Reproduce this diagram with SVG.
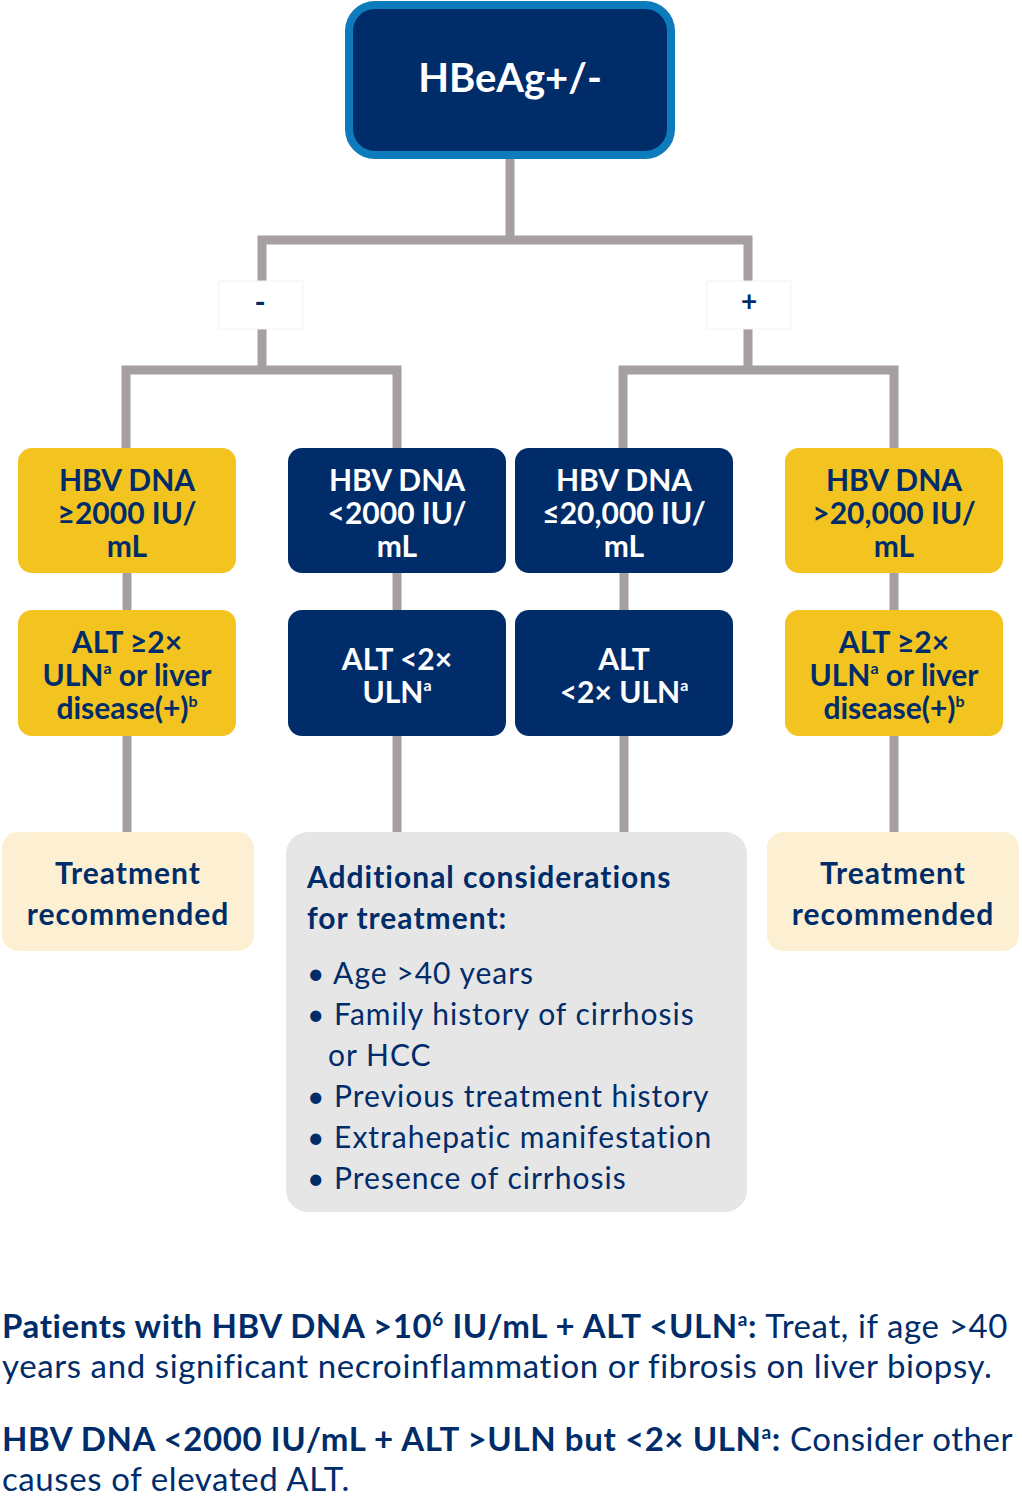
<svg xmlns="http://www.w3.org/2000/svg" width="1022" height="1500" viewBox="0 0 1022 1500">
<style>
.c{fill:none;stroke:#a5a09f;stroke-width:9}
.navy{fill:#002d6a}
.yel{fill:#f3c41f}
.t{font-family:"Lato","Open Sans",sans-serif;font-weight:700;font-size:30px;text-anchor:middle}
.w{fill:#fff}
.b{fill:#002d6a}
.s{font-family:"Lato","Open Sans",sans-serif;font-size:30px;fill:#002d6a;letter-spacing:1px}
.sb{font-weight:700}
.n{font-size:33px;letter-spacing:0.6px}
</style>
<rect width="1022" height="1500" fill="#fff"/>
<g id="connectors">
<path class="c" d="M510 158V240M262 290V240H748V290M262 325V370M126 450V370H397V450M748 325V370M623 450V370H894V450"/>
<path class="c" d="M127 570V614M397 570V614M624 570V614M894 570V614M127 733V835M397 733V835M624 733V835M894 733V835"/>
</g>
<g id="top"><rect x="349" y="5" width="322" height="150" rx="26" class="navy" stroke="#0e7bbd" stroke-width="8"/><text x="510" y="92" class="t w" style="font-size:40px">HBeAg+/-</text></g>
<g id="minus"><rect x="219" y="281" width="84" height="48" fill="#fff" stroke="#f2f2f2"/><text x="260" y="313" class="t b" style="font-size:30px">-</text></g>
<g id="plus"><rect x="707" y="281" width="84" height="48" fill="#fff" stroke="#f2f2f2"/><text x="749" y="311" class="t b" style="font-size:28px">+</text></g>
<g id="n1"><rect x="18" y="448" width="218" height="125" rx="14" class="yel"/><text class="t b"><tspan x="127" y="491">HBV DNA</tspan><tspan x="127" y="524">≥2000 IU/</tspan><tspan x="127" y="557">mL</tspan></text></g>
<g id="n2"><rect x="288" y="448" width="218" height="125" rx="14" class="navy"/><text class="t w"><tspan x="397" y="491">HBV DNA</tspan><tspan x="397" y="524">&lt;2000 IU/</tspan><tspan x="397" y="557">mL</tspan></text></g>
<g id="n3"><rect x="515" y="448" width="218" height="125" rx="14" class="navy"/><text class="t w"><tspan x="624" y="491">HBV DNA</tspan><tspan x="624" y="524">≤20,000 IU/</tspan><tspan x="624" y="557">mL</tspan></text></g>
<g id="n4"><rect x="785" y="448" width="218" height="125" rx="14" class="yel"/><text class="t b"><tspan x="894" y="491">HBV DNA</tspan><tspan x="894" y="524">&gt;20,000 IU/</tspan><tspan x="894" y="557">mL</tspan></text></g>
<g id="n5"><rect x="18" y="610" width="218" height="126" rx="14" class="yel"/><text class="t b"><tspan x="127" y="653">ALT ≥2×</tspan><tspan x="127" y="686">ULN<tspan font-size="16" dy="-12">a</tspan><tspan dy="12"> or liver</tspan></tspan><tspan x="127" y="719">disease(+)<tspan font-size="16" dy="-12">b</tspan></tspan></text></g>
<g id="n6"><rect x="288" y="610" width="218" height="126" rx="14" class="navy"/><text class="t w"><tspan x="397" y="670">ALT &lt;2×</tspan><tspan x="397" y="703">ULN<tspan font-size="16" dy="-12">a</tspan></tspan></text></g>
<g id="n7"><rect x="515" y="610" width="218" height="126" rx="14" class="navy"/><text class="t w"><tspan x="624" y="670">ALT</tspan><tspan x="624" y="703">&lt;2× ULN<tspan font-size="16" dy="-12">a</tspan></tspan></text></g>
<g id="n8"><rect x="785" y="610" width="218" height="126" rx="14" class="yel"/><text class="t b"><tspan x="894" y="653">ALT ≥2×</tspan><tspan x="894" y="686">ULN<tspan font-size="16" dy="-12">a</tspan><tspan dy="12"> or liver</tspan></tspan><tspan x="894" y="719">disease(+)<tspan font-size="16" dy="-12">b</tspan></tspan></text></g>
<g id="n9"><rect x="2" y="832" width="252" height="119" rx="16" fill="#fdf0d2"/><text class="t b" style="letter-spacing:1px"><tspan x="128" y="884">Treatment</tspan><tspan x="128" y="925">recommended</tspan></text></g>
<g id="n10"><rect x="767" y="832" width="252" height="119" rx="16" fill="#fdf0d2"/><text class="t b" style="letter-spacing:1px"><tspan x="893" y="884">Treatment</tspan><tspan x="893" y="925">recommended</tspan></text></g>
<g id="n11"><rect x="286" y="832" width="461" height="380" rx="22" fill="#e6e6e6"/>
<text class="s sb"><tspan x="307" y="888">Additional considerations</tspan><tspan x="307" y="929">for treatment:</tspan></text>
<text class="s"><tspan x="307" y="984">• Age &gt;40 years</tspan><tspan x="307" y="1025">• Family history of cirrhosis</tspan><tspan x="328" y="1066">or HCC</tspan><tspan x="307" y="1107">• Previous treatment history</tspan><tspan x="307" y="1148">• Extrahepatic manifestation</tspan><tspan x="307" y="1189">• Presence of cirrhosis</tspan></text></g>
<g id="notes">
<text class="s n"><tspan x="2" y="1338"><tspan class="sb">Patients with HBV DNA &gt;10<tspan font-size="19" dy="-12">6</tspan><tspan dy="12"> IU/mL + ALT &lt;ULN</tspan><tspan font-size="19" dy="-12">a</tspan><tspan dy="12">:</tspan></tspan> Treat, if age &gt;40</tspan><tspan x="2" y="1378">years and significant necroinflammation or fibrosis on liver biopsy.</tspan></text>
<text class="s n"><tspan x="2" y="1451"><tspan class="sb">HBV DNA &lt;2000 IU/mL + ALT &gt;ULN but &lt;2× ULN<tspan font-size="19" dy="-12">a</tspan><tspan dy="12">:</tspan></tspan> Consider other</tspan><tspan x="2" y="1491">causes of elevated ALT.</tspan></text>
</g>
</svg>
